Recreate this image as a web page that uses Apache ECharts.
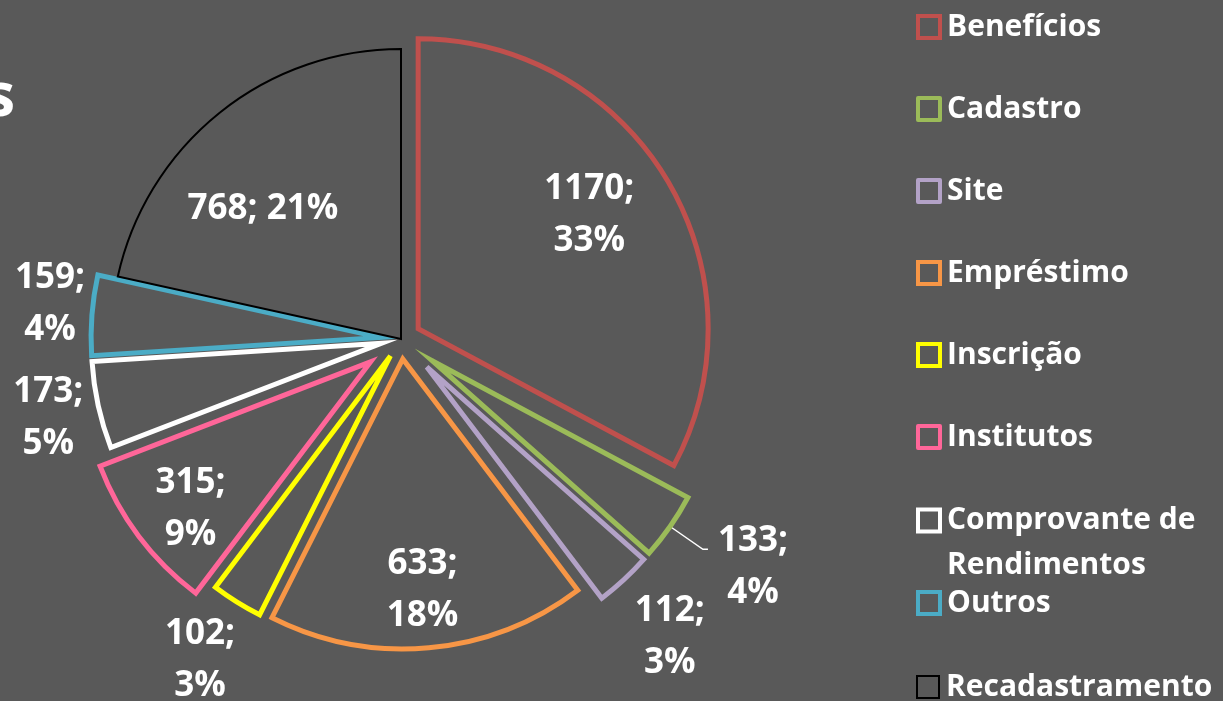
<!DOCTYPE html>
<html>
<head>
    <meta charset="utf-8">
    <title>Assuntos</title>
    <script src="https://cdn.jsdelivr.net/npm/echarts@6/dist/echarts.min.js"></script>
    <style>html, body { margin: 0; padding: 0; background: #595959; }</style>
</head>
<body>
<div id="chart" style="width: 1223px; height: 701px;"></div>
<script type="text/javascript">
    // dados do gráfico
    var categories = ['Benefícios', 'Cadastro', 'Site', 'Empréstimo', 'Inscrição', 'Institutos',
        'Comprovante de Rendimentos', 'Outros', 'Recadastramento'];
    var counts = [1170, 133, 112, 633, 102, 315, 173, 159, 768];

    // estilo
    var bg = '#595959';
    var borderColors = ['#c0504d', '#9bbb59', '#b3a2c7', '#f79646', '#ffff00', '#ff6699', '#ffffff', '#4bacc6', '#000000'];
    var insideNames = ['Benefícios', 'Empréstimo', 'Institutos', 'Recadastramento'];
    // fatias mais destacadas (explosão maior)
    var farNames = ['Cadastro', 'Site', 'Institutos'];
    var tierOffsets = [20, 38];
    // [length, length2, mostrar linha]
    var outerLines = {
        'Cadastro': [40, 5, true],
        'Site': [78, -52, false],
        'Inscrição': [68, -44, false],
        'Comprovante de Rendimentos': [5, 0, false],
        'Outros': [5, -8, false]
    };
    // ajuste fino dos rótulos [dx, dy]
    var labelNudge = {
        'Benefícios': [-18, 0],
        'Cadastro': [0, 18], 'Comprovante de Rendimentos': [0, 12], 'Outros': [0, -11],
        'Recadastramento': [0, 42], 'Empréstimo': [0, 12], 'Institutos': [-4, 15]
    };
    var font = 'Open Sans';
    var hidden = { color: 'rgba(0,0,0,0)', borderWidth: 0 };

    function itemStyleOf(i) {
        return {
            color: bg,
            borderColor: borderColors[i],
            borderWidth: categories[i] === 'Recadastramento' ? 2 : 5,
            borderJoin: 'miter'
        };
    }
    function tierOf(name) { return farNames.indexOf(name) >= 0 ? 1 : 0; }
    function nudge(p) {
        var d = labelNudge[categories[p.dataIndex]];
        return d ? { dx: d[0], dy: d[1] } : {};
    }

    var labelFont = { color: '#fff', fontSize: 35, fontWeight: 'bold', fontFamily: font, lineHeight: 52 };

    // série com as fatias (e rótulos externos) de um nível de explosão
    function shapeSeries(tier) {
        return {
            type: 'pie',
            center: [401, 339],
            radius: [0, 290],
            startAngle: 90,
            percentPrecision: 0,
            selectedMode: 'multiple',
            selectedOffset: tierOffsets[tier],
            avoidLabelOverlap: false,
            emphasis: { disabled: true },
            label: {
                position: 'outside',
                formatter: '{a|{c};}\n{a|{d}%}',
                distanceToLabelLine: 5,
                rich: { a: Object.assign({ width: 80, align: 'center' }, labelFont) }
            },
            labelLine: { lineStyle: { color: '#fff', width: 1.5 } },
            labelLayout: nudge,
            data: categories.map(function (name, i) {
                var own = tierOf(name) === tier;
                var st = own ? itemStyleOf(i) : hidden;
                var o = outerLines[name];
                return {
                    name: name, value: counts[i],
                    selected: name !== 'Recadastramento',
                    itemStyle: st, select: { itemStyle: st },
                    label: { show: !!(own && o) },
                    labelLine: o ? { show: own && o[2], length: o[0], length2: o[1] } : { show: false }
                };
            })
        };
    }

    // série transparente só para os rótulos internos
    function labelSeries(tier) {
        return {
            type: 'pie',
            center: [401, 339],
            radius: [0, 435],
            startAngle: 90,
            percentPrecision: 0,
            selectedMode: 'multiple',
            selectedOffset: tierOffsets[tier],
            silent: true,
            emphasis: { disabled: true },
            labelLine: { show: false },
            label: Object.assign({ position: 'inside', formatter: '{c};\n{d}%' }, labelFont),
            labelLayout: nudge,
            data: categories.map(function (name, i) {
                var item = {
                    name: name, value: counts[i],
                    selected: name !== 'Recadastramento',
                    itemStyle: hidden, select: { itemStyle: hidden },
                    label: { show: tierOf(name) === tier && insideNames.indexOf(name) >= 0 }
                };
                if (name === 'Recadastramento') item.label.formatter = '{c}; {d}%';
                return item;
            })
        };
    }

    function legendItem(name) {
        var i = categories.indexOf(name);
        return {
            name: name,
            itemStyle: { color: bg, borderColor: borderColors[i], borderWidth: name === 'Recadastramento' ? 2 : 4 }
        };
    }

    var myChart = echarts.init(document.getElementById('chart'));
    var legendText = { color: '#fff', fontSize: 30, fontWeight: 'bold', fontFamily: font, lineHeight: 36, padding: [0, 0, 0, 2] };
    function legend(extra) {
        return Object.assign({
            orient: 'vertical', left: 911, icon: 'rect',
            itemWidth: 22, itemHeight: 22,
            selectedMode: false,
            textStyle: legendText
        }, extra);
    }

    var option = {
        backgroundColor: bg,
        animation: false,
        title: {
            text: 'Assuntos', right: 1208, top: 69, padding: 0,
            textStyle: { color: '#fff', fontSize: 60, fontWeight: 'bold', fontFamily: font }
        },
        legend: [
            legend({ top: 4, itemGap: 46, data: categories.slice(0, 6).map(legendItem) }),
            legend({
                top: 448,
                formatter: function (n) { return '\n' + n.replace('de ', 'de\n'); },
                textStyle: Object.assign({}, legendText, { lineHeight: 45 }),
                data: [legendItem('Comprovante de Rendimentos')]
            }),
            legend({ top: 580, data: [legendItem('Outros')] }),
            legend({ top: 664, data: [legendItem('Recadastramento')] })
        ],
        series: [shapeSeries(0), shapeSeries(1), labelSeries(0), labelSeries(1)]
    };
    myChart.setOption(option);
</script>
</body>
</html>
